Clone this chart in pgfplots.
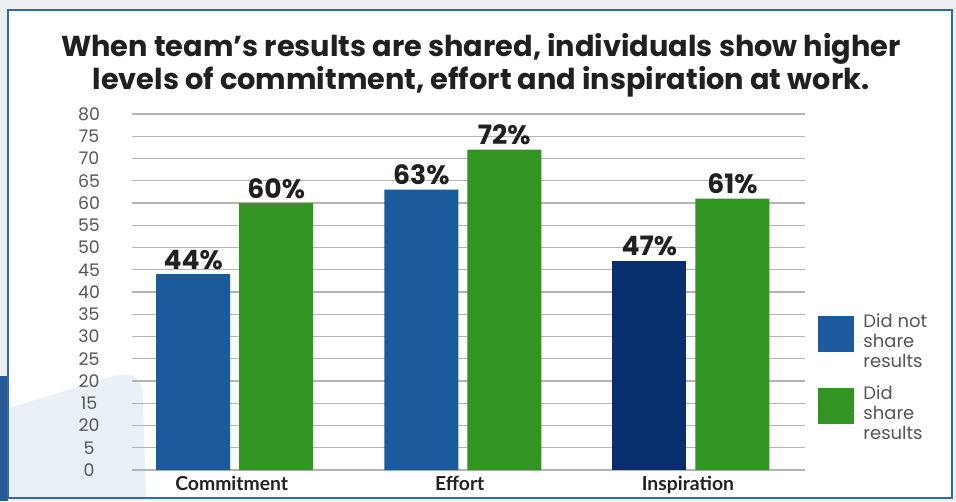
\documentclass[border=0pt]{standalone}
\usepackage{pgfplots}
\pgfplotsset{compat=1.18}
\usepackage{fontspec}
\setmainfont{Poppins}
\newfontfamily\catfont{Lato}
\newlength\px \setlength\px{0.75pt}
\definecolor{barblue}{HTML}{1A5B9C}
\definecolor{bargreen}{HTML}{329421}
\definecolor{barnavy}{HTML}{082E6D}
\definecolor{frameblue}{HTML}{2E6AAE}
\definecolor{gridgray}{HTML}{B4B4B4}
\definecolor{ticktext}{HTML}{555555}
\definecolor{cattext}{HTML}{222222}
\definecolor{labeltext}{HTML}{231F20}
\definecolor{bggray}{HTML}{EEEFF2}
\definecolor{decoblue}{HTML}{E9F0F8}
\begin{document}
\begin{tikzpicture}[x=\px,y=\px]
\fill[bggray] (0,0) rectangle (956,501);
\fill[frameblue!85!black] (0,0) rectangle (8,125);
\fill[white] (8,3) rectangle (952,491);
\fill[decoblue] (9,4) -- (9,93) .. controls (60,108) .. (110,124) .. controls (138,131) and (142,122) .. (143,100) -- (146,4) -- cycle;
\draw[frameblue, line width=2.5\px] (8,3) rectangle (952,491);
\node[font=\bfseries\fontsize{21.6}{25}\selectfont, text=labeltext, align=center] at (481,436)
  {When team’s results are shared, individuals show higher\\levels of commitment, effort and inspiration at work.};
\begin{axis}[
  at={(132\px,31\px)}, anchor=south west, scale only axis,
  width=673\px, height=356\px,
  xmin=-0.45, xmax=2.5, ymin=0, ymax=80,
  /pgf/number format/assume math mode=true,
  axis line style={draw=none},
  ytick={0,5,...,80},
  yticklabels={0,5,20,15,20,25,30,35,40,45,50,55,60,65,70,75,80},
  xtick={0,1,2}, xticklabels={Commitment,Effort,Inspiration},
  major tick length=0pt, tick style={draw=none},
  ymajorgrids, grid style={draw=gridgray, line width=1.2\px},
  yticklabel style={font=\fontsize{13}{13}\selectfont, text=ticktext, anchor=center, xshift=-43\px},
  xticklabel style={font=\catfont\bfseries\fontsize{14.5}{15}\selectfont, text=cattext, yshift=-1\px, xshift=-3\px},
  nodes near coords={\pgfmathprintnumber{\pgfplotspointmeta}\%},
  every node near coord/.append style={font=\bfseries\fontsize{20}{21}\selectfont, text=labeltext},
  clip=false,
  legend style={at={(1.0136,0.452)}, anchor=north west, draw=none, fill=none,
    font=\fontsize{13.5}{15}\selectfont, text=ticktext,
    nodes={align=left, inner sep=2\px}, row sep=12\px},
  legend cell align=left,
]
\addplot[ybar, bar width=74\px, bar shift=-41.5\px, fill=barblue, draw=none,
  every node near coord/.append style={xshift=-41.5\px},
  legend image code/.code={\fill[barblue] (-4.5pt,-7.5pt) rectangle (22.5pt,19.5pt); \path (22.5pt,0pt) -- (27.75pt,0pt);}]
  coordinates {(0,44) (1,63)};
\addlegendentry{Did not\\share\\results}
\addplot[ybar, bar width=74\px, bar shift=41.5\px, fill=bargreen, draw=none,
  every node near coord/.append style={xshift=41.5\px},
  legend image code/.code={\fill[bargreen] (-4.5pt,-7.5pt) rectangle (22.5pt,19.5pt); \path (22.5pt,0pt) -- (27.75pt,0pt);}]
  coordinates {(0,60) (1,72) (2,61)};
\addlegendentry{Did\\share\\results}
\addplot[ybar, bar width=74\px, bar shift=-41.5\px, fill=barnavy, draw=none, forget plot,
  every node near coord/.append style={xshift=-41.5\px}]
  coordinates {(2,47)};
\end{axis}
\end{tikzpicture}
\end{document}
